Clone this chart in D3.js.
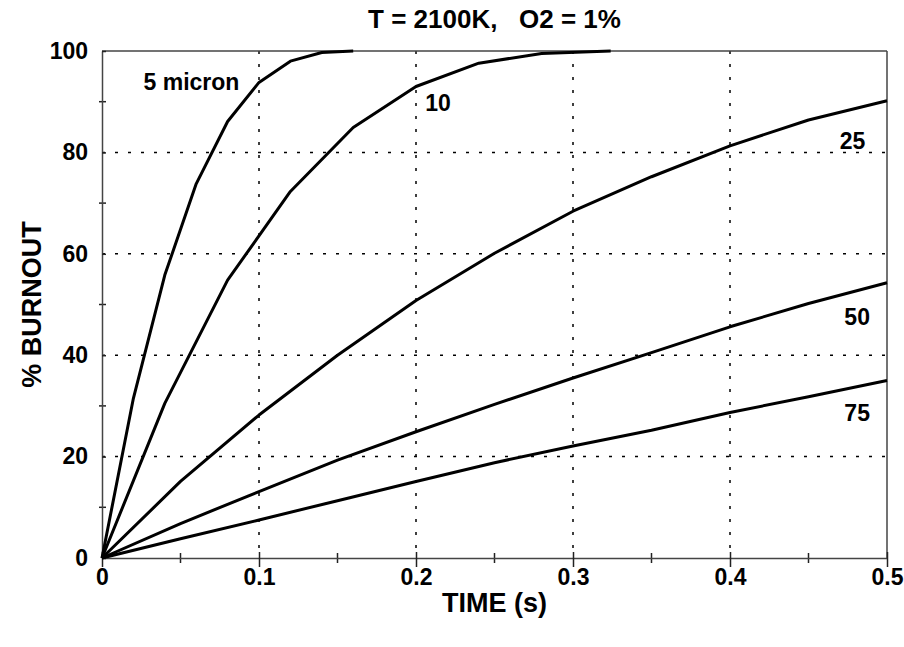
<!DOCTYPE html>
<html>
<head>
<meta charset="utf-8">
<script src="https://cdn.jsdelivr.net/npm/d3@7"></script>
<style>
  body { margin: 0; background: #fff; }
  text { font-family: "Liberation Sans", Arial, sans-serif; font-weight: bold; fill: #000; }
</style>
</head>
<body>
<div id="chart"></div>
<script>
// time (s) and % burnout per particle size
var time5 = [0, 0.02, 0.04, 0.06, 0.08, 0.1, 0.12, 0.14, 0.16];
var burn5 = [0, 31.5, 55.8, 73.8, 86.1, 93.8, 98.0, 99.7, 100];
var time10 = [0, 0.04, 0.08, 0.12, 0.16, 0.2, 0.24, 0.28, 0.324];
var burn10 = [0, 30.5, 54.8, 72.3, 84.9, 93.0, 97.6, 99.5, 100];
var timeLong = [0, 0.05, 0.1, 0.15, 0.2, 0.25, 0.3, 0.35, 0.4, 0.45, 0.5];
var burn25 = [0, 15.1, 28.2, 40.0, 50.8, 60.1, 68.4, 75.2, 81.3, 86.4, 90.2];
var burn50 = [0, 6.8, 13.1, 19.3, 24.9, 30.3, 35.5, 40.5, 45.6, 50.2, 54.3];
var burn75 = [0, 3.8, 7.5, 11.3, 15.1, 18.8, 22.1, 25.2, 28.7, 31.8, 35.0];
var seriesNames = ['5 micron', '10', '25', '50', '75'];
var labelTime = [0.057, 0.214, 0.478, 0.481, 0.481];
var labelBurn = [93.9, 89.7, 82.2, 47.5, 28.6];
var xTicks = [0, 0.1, 0.2, 0.3, 0.4, 0.5];
var yTicks = [0, 20, 40, 60, 80, 100];

var series = [
  d3.zip(time5, burn5),
  d3.zip(time10, burn10),
  d3.zip(timeLong, burn25),
  d3.zip(timeLong, burn50),
  d3.zip(timeLong, burn75)
];

var margin = {top: 51, right: 17, bottom: 89, left: 102};
var W = 904, H = 647;
var width = W - margin.left - margin.right, height = H - margin.top - margin.bottom;

var x = d3.scaleLinear().domain([0, 0.5]).range([0, width]);
var y = d3.scaleLinear().domain([0, 100]).range([height, 0]);

var svg = d3.select('#chart').append('svg')
    .attr('width', W)
    .attr('height', H);

svg.append('text')
    .attr('x', margin.left + width / 2)
    .attr('y', 28)
    .attr('text-anchor', 'middle')
    .style('font-size', '26px')
    .style('white-space', 'pre')
    .text('T = 2100K,   O2 = 1%');

var g = svg.append('g')
    .attr('transform', 'translate(' + margin.left + ',' + margin.top + ')');

// dotted grid
g.selectAll('.vgrid')
    .data(xTicks.slice(1, -1))
    .enter().append('line')
    .attr('x1', function (d) { return x(d); })
    .attr('x2', function (d) { return x(d); })
    .attr('y1', 0).attr('y2', height)
    .attr('stroke', '#000').attr('stroke-width', 1.5)
    .attr('stroke-dasharray', '3,10');
g.selectAll('.hgrid')
    .data(yTicks.slice(1, -1))
    .enter().append('line')
    .attr('y1', function (d) { return y(d); })
    .attr('y2', function (d) { return y(d); })
    .attr('x1', 0).attr('x2', width)
    .attr('stroke', '#000').attr('stroke-width', 1.5)
    .attr('stroke-dasharray', '3,10');

// frame top / right
g.append('line').attr('x1', 0).attr('x2', width).attr('y1', 0).attr('y2', 0)
    .attr('stroke', '#444').attr('stroke-width', 1.5);
g.append('line').attr('x1', width).attr('x2', width).attr('y1', 0).attr('y2', height)
    .attr('stroke', '#444').attr('stroke-width', 1.5);

// minor ticks
g.selectAll('.xminor')
    .data(d3.range(0.05, 0.5, 0.1))
    .enter().append('line')
    .attr('x1', function (d) { return x(d); })
    .attr('x2', function (d) { return x(d); })
    .attr('y1', height - 5).attr('y2', height + 5)
    .attr('stroke', '#222').attr('stroke-width', 1.5);
g.selectAll('.yminor')
    .data(d3.range(10, 100, 20))
    .enter().append('line')
    .attr('y1', function (d) { return y(d); })
    .attr('y2', function (d) { return y(d); })
    .attr('x1', -3).attr('x2', 4)
    .attr('stroke', '#222').attr('stroke-width', 1.5);

// axes
var xAxis = g.append('g')
    .attr('transform', 'translate(0,' + height + ')')
    .call(d3.axisBottom(x).tickValues(xTicks).tickFormat(d3.format('')).tickSizeOuter(0).tickSizeInner(9).tickPadding(2));
var yAxis = g.append('g')
    .call(d3.axisLeft(y).tickValues(yTicks).tickSizeOuter(0).tickSizeInner(7).tickPadding(7));

[xAxis, yAxis].forEach(function (a) {
  a.select('.domain').attr('stroke', '#444').attr('stroke-width', 1.5);
  a.selectAll('.tick line').attr('stroke', '#222').attr('stroke-width', 1.5);
  a.selectAll('.tick text').style('font-size', '23px').style('font-family', '"Liberation Sans", Arial, sans-serif').style('font-weight', 'bold').attr('fill', '#000');
});
xAxis.selectAll('.tick line').attr('y1', -6);
yAxis.selectAll('.tick line').attr('x2', 4);

// curves
var line = d3.line()
    .x(function (d) { return x(d[0]); })
    .y(function (d) { return y(d[1]); });

g.selectAll('.curve')
    .data(series)
    .enter().append('path')
    .attr('d', line)
    .attr('fill', 'none')
    .attr('stroke', '#000')
    .attr('stroke-width', 3)
    .attr('stroke-linejoin', 'round');

// curve labels
g.selectAll('.lbl')
    .data(seriesNames)
    .enter().append('text')
    .attr('x', function (d, i) { return x(labelTime[i]); })
    .attr('y', function (d, i) { return y(labelBurn[i]); })
    .attr('dy', '0.35em')
    .attr('text-anchor', 'middle')
    .style('font-size', '23px')
    .text(function (d) { return d; });

// axis titles
svg.append('text')
    .attr('x', margin.left + width / 2)
    .attr('y', 612)
    .attr('text-anchor', 'middle')
    .style('font-size', '27px')
    .text('TIME (s)');
svg.append('text')
    .attr('transform', 'translate(41,' + (margin.top + height / 2) + ') rotate(-90)')
    .attr('text-anchor', 'middle')
    .style('font-size', '27px')
    .text('% BURNOUT');
</script>
</body>
</html>
